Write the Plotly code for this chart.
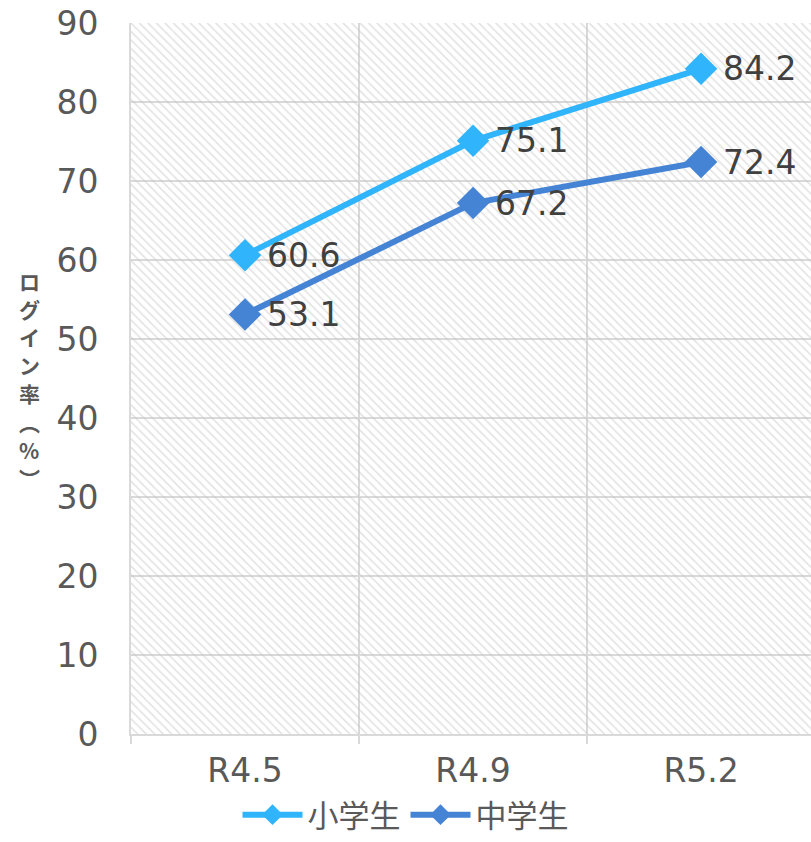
import plotly.graph_objects as go

categories = ["R4.5", "R4.9", "R5.2"]
elementary = [60.6, 75.1, 84.2]
junior = [53.1, 67.2, 72.4]
series_names = ["小学生", "中学生"]
y_title_chars = ["ロ", "グ", "イ", "ン", "率", "︵", "%", "︶"]

c_elem = "#30b4fb"
c_jun = "#4583d5"
grid = "#d9d9d9"
txt = "#595959"
lab = "#404040"
font_num = "DejaVu Sans"
font_jp = "Noto Sans CJK JP"

fig = go.Figure()

# hatched plot background
fig.add_trace(go.Bar(
    x=categories, y=[90] * len(categories), width=1,
    marker=dict(color="rgba(0,0,0,0)", line=dict(width=0),
                pattern=dict(shape="\\", fgcolor="#c4c4c4", bgcolor="rgba(0,0,0,0)",
                             size=6, solidity=0.25)),
    showlegend=False, hoverinfo="skip"))

for name, vals, col in [(series_names[0], elementary, c_elem),
                        (series_names[1], junior, c_jun)]:
    fig.add_trace(go.Scatter(
        x=categories, y=vals, name=name, mode="lines+markers",
        line=dict(color=col, width=6),
        marker=dict(symbol="diamond", size=25, color=col)))
    for c, v in zip(categories, vals):
        fig.add_annotation(
            x=c, y=v, text=f"{v:.1f}", showarrow=False,
            xanchor="left", yanchor="middle", xshift=20,
            font=dict(size=33, color=lab, family=font_num))

# vertical (stacked) y-axis title
n = len(y_title_chars)
pitch = 28.2
for i, ch in enumerate(y_title_chars):
    fig.add_annotation(
        text=ch, xref="paper", yref="paper",
        x=-0.150, y=0.499, xanchor="center", yanchor="middle", showarrow=False,
        yshift=((n - 1) / 2 - i) * pitch,
        font=dict(size=21, color=txt, family=font_jp, weight="bold"))

fig.update_layout(
    width=811, height=842,
    margin=dict(l=131, r=0, t=23, b=108, autoexpand=False),
    paper_bgcolor="white", plot_bgcolor="white",
    barmode="overlay", bargap=0,
    showlegend=True,
    legend=dict(orientation="h", xref="container", x=0.5, xanchor="center",
                yref="container", y=0, yanchor="bottom",
                font=dict(size=31, color=txt, family=font_jp), itemwidth=60),
    font=dict(family=font_num, color=txt),
)

fig.update_xaxes(
    type="category", range=[-0.5, 2.482], tickson="boundaries", automargin=False,
    showgrid=True, gridcolor=grid, gridwidth=2,
    showline=True, linecolor=grid, linewidth=2,
    ticks="outside", ticklen=8, tickcolor=grid, tickwidth=2,
    ticklabelstandoff=6, ticklabeloverflow="allow",
    tickfont=dict(size=33, color=txt, family=font_num))

fig.update_yaxes(
    range=[0, 90], dtick=10, showgrid=True, gridcolor=grid, gridwidth=2,
    showline=True, linecolor=grid, linewidth=2, ticks="", automargin=False,
    ticklabelstandoff=24, zeroline=False, ticklabeloverflow="allow",
    tickfont=dict(size=33, color=txt, family=font_num))

fig.write_html("out.html", config={"displayModeBar": False},
               post_script="document.body.style.margin='0';document.body.style.overflow='hidden';")
